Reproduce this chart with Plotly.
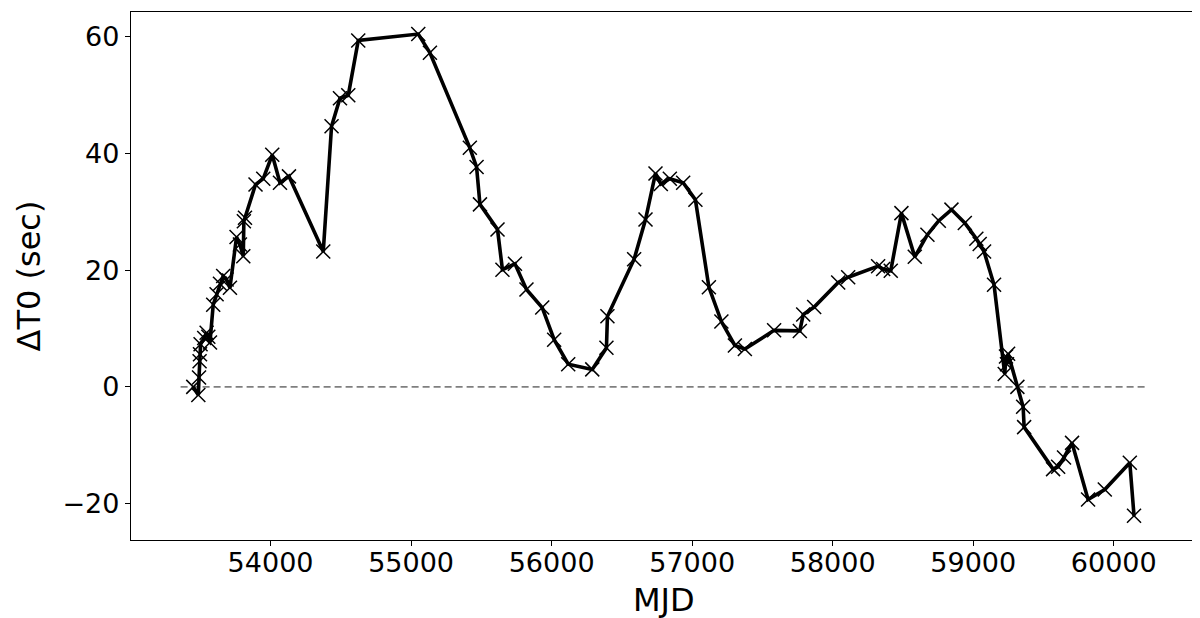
import plotly.graph_objects as go

# Observation epochs (MJD) and timing residual ΔT0 (sec)
mjd = [53450, 53486, 53491, 53495, 53498, 53502, 53528, 53545, 53557, 53569,
       53592, 53616, 53640, 53663, 53687, 53711, 53758, 53782, 53806, 53810,
       53818, 53893, 53948, 54012, 54067, 54131, 54375, 54434, 54494, 54553,
       54624, 55051, 55134, 55418, 55466, 55490, 55615, 55650, 55739, 55821,
       55933, 56018, 56118, 56289, 56390, 56397, 56587, 56668, 56739, 56777,
       56841, 56936, 57023, 57119, 57208, 57304, 57375, 57583, 57766, 57790,
       57868, 58039, 58110, 58323, 58359, 58413, 58489, 58584, 58674, 58755,
       58845, 58940, 59022, 59046, 59077, 59148, 59224, 59233, 59240, 59248,
       59314, 59355, 59362, 59568, 59604, 59646, 59703, 59817, 59936, 60114,
       60144]
dt0 = [0.0, -1.4, 1.6, 4.4, 5.6, 7.3, 8.4, 9.3, 8.6, 7.6,
       14.1, 15.9, 17.7, 19.0, 18.4, 17.0, 25.7, 24.4, 22.4, 28.4,
       29.0, 34.7, 35.7, 39.8, 35.0, 36.1, 23.2, 44.7, 49.5, 50.0,
       59.4, 60.5, 57.3, 41.0, 37.7, 31.3, 27.0, 20.1, 21.1, 16.7,
       13.6, 8.1, 3.9, 3.0, 6.7, 12.1, 21.9, 28.7, 36.6, 34.8,
       35.7, 35.0, 32.1, 17.1, 11.2, 7.1, 6.5, 9.7, 9.6, 12.4,
       13.7, 17.9, 18.8, 20.7, 20.2, 19.9, 29.8, 22.3, 26.1, 28.5,
       30.4, 28.1, 25.4, 24.5, 23.2, 17.5, 2.2, 5.2, 3.9, 5.7,
       0.0, -3.4, -6.9, -14.1, -13.7, -12.1, -9.6, -19.3, -17.6, -13.0,
       -22.1]

# Zero reference line extent
zero_x = [53360, 60245]
zero_y = [0, 0]

x_ticks = [54000, 55000, 56000, 57000, 58000, 59000, 60000]
y_ticks = [-20, 0, 20, 40, 60]

fig = go.Figure()
fig.add_trace(go.Scatter(
    x=mjd, y=dt0, mode="lines+markers",
    line=dict(color="black", width=3.6),
    marker=dict(symbol="x-thin", size=14, color="black",
                line=dict(color="black", width=1.5)),
    showlegend=False, hoverinfo="skip"))
fig.add_trace(go.Scatter(
    x=zero_x, y=zero_y, mode="lines",
    line=dict(color="rgba(0,0,0,0.5)", width=1.8, dash="7px,4px"),
    showlegend=False, hoverinfo="skip"))

axis_common = dict(
    showgrid=False, zeroline=False, showline=True, mirror=True,
    linecolor="black", linewidth=1.3, ticks="outside", ticklen=5,
    tickwidth=1.3, tickcolor="black",
    tickfont=dict(family="DejaVu Sans", size=27, color="black"),
)

fig.update_layout(
    width=1200, height=618,
    margin=dict(l=123, r=12, t=4, b=86),
    plot_bgcolor="white", paper_bgcolor="white",
    font=dict(family="DejaVu Sans", color="black"),
    xaxis=dict(range=[53007, 60585], tickvals=x_ticks,
               ticktext=[str(v) for v in x_ticks],
               ticklabelstandoff=-7,
               **axis_common),
    yaxis=dict(range=[-26.25, 64.28], tickvals=y_ticks,
               ticktext=[("\u2212" + str(-v)) if v < 0 else str(v) for v in y_ticks],
               title=dict(text="ΔT0 (sec)", font=dict(size=32, family="DejaVu Sans"),
                          standoff=12),
               **axis_common),
    annotations=[dict(text="MJD", xref="paper", yref="paper", x=0.5, y=-0.113,
                      xanchor="center", yanchor="middle", showarrow=False,
                      font=dict(size=32, family="DejaVu Sans", color="black"))],
)

fig.write_html("out.html")
